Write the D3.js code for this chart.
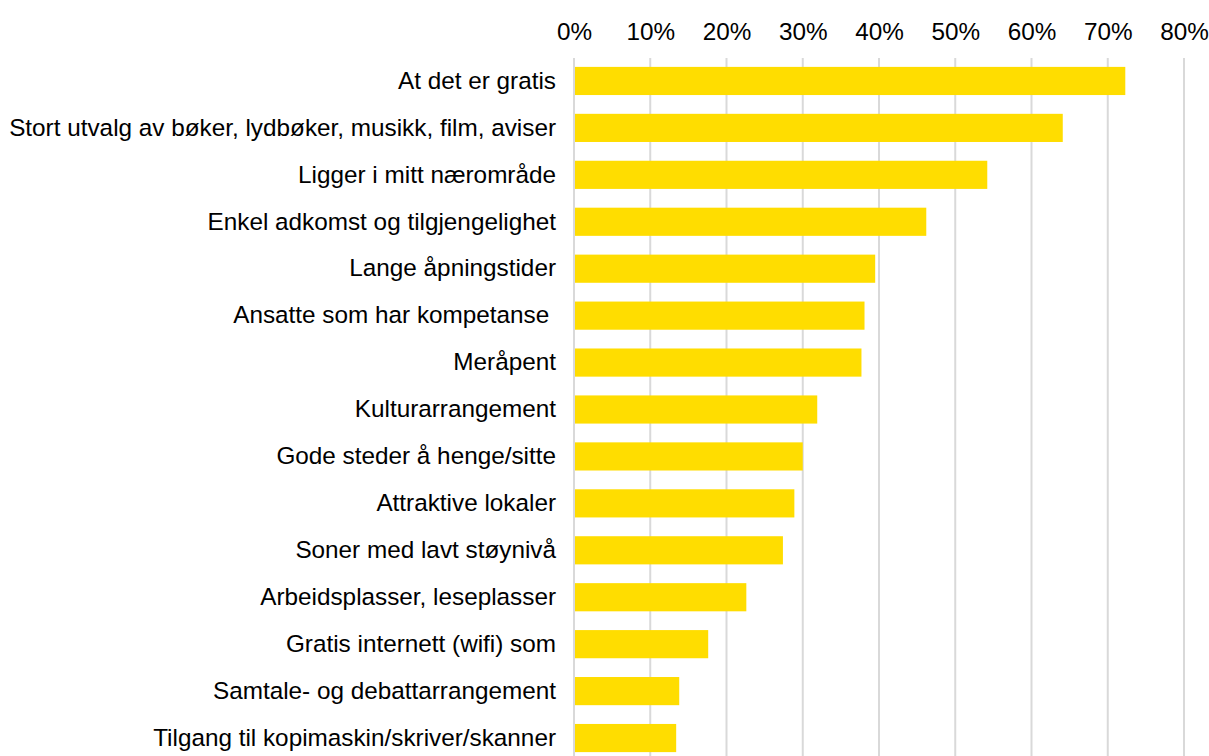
<!DOCTYPE html>
<html>
<head>
<meta charset="utf-8">
<script src="https://cdn.jsdelivr.net/npm/d3@7"></script>
<style>
  html, body { margin: 0; padding: 0; background: #fff; }
  svg { display: block; font-family: "Liberation Sans", Arial, sans-serif; }
</style>
</head>
<body>
<div id="app"></div>
<script>
// categories, top to bottom
const categories = [
  "At det er gratis",
  "Stort utvalg av bøker, lydbøker, musikk, film, aviser",
  "Ligger i mitt nærområde",
  "Enkel adkomst og tilgjengelighet",
  "Lange åpningstider",
  "Ansatte som har kompetanse ",
  "Meråpent",
  "Kulturarrangement",
  "Gode steder å henge/sitte",
  "Attraktive lokaler",
  "Soner med lavt støynivå",
  "Arbeidsplasser, leseplasser",
  "Gratis internett (wifi) som",
  "Samtale- og debattarrangement",
  "Tilgang til kopimaskin/skriver/skanner"
];
const values = [0.723, 0.641, 0.542, 0.462, 0.395, 0.381, 0.377, 0.319, 0.300, 0.289, 0.274, 0.226, 0.176, 0.138, 0.134];
const tickValues = [0, 0.1, 0.2, 0.3, 0.4, 0.5, 0.6, 0.7, 0.8];

const W = 1209, H = 756;
const svg = d3.select("#app").append("svg")
  .attr("width", W)
  .attr("height", H);

// scales
const x = d3.scaleLinear()
  .domain([0, 0.8])
  .range([574, 1184]);

const y = d3.scaleBand()
  .domain(categories)
  .range([57.5, 761.5])
  .paddingInner(0.4)
  .paddingOuter(0.2);

// gridlines
svg.append("g")
  .selectAll("line")
  .data(tickValues)
  .enter()
  .append("line")
  .attr("x1", d => x(d))
  .attr("x2", d => x(d))
  .attr("y1", 58)
  .attr("y2", H)
  .attr("stroke", "#d9d9d9")
  .attr("stroke-width", 2);

// top axis labels
const xAxis = d3.axisTop(x)
  .tickValues(tickValues)
  .tickFormat(d3.format(".0%"))
  .tickSize(0)
  .tickPadding(0);

const gx = svg.append("g")
  .attr("transform", "translate(0,40)")
  .call(xAxis);
gx.select(".domain").remove();
gx.selectAll("text")
  .attr("font-family", "'Liberation Sans', Arial, sans-serif")
  .attr("font-size", 24.3)
  .attr("fill", "#000")
  .attr("dy", 0);

// bars
svg.append("g")
  .selectAll("rect")
  .data(values)
  .enter()
  .append("rect")
  .attr("x", x(0) + 1)
  .attr("y", (d, i) => y(categories[i]))
  .attr("width", d => x(d) - x(0) - 1)
  .attr("height", y.bandwidth())
  .attr("fill", "#ffdd00");

// category labels
const yAxis = d3.axisLeft(y)
  .tickSize(0)
  .tickPadding(18);

const gy = svg.append("g")
  .attr("transform", "translate(" + x(0) + ",0)")
  .call(yAxis);
gy.select(".domain").remove();
gy.selectAll("text")
  .attr("font-family", "'Liberation Sans', Arial, sans-serif")
  .attr("font-size", 24.3)
  .attr("fill", "#000")
  .style("white-space", "pre");
</script>
</body>
</html>
